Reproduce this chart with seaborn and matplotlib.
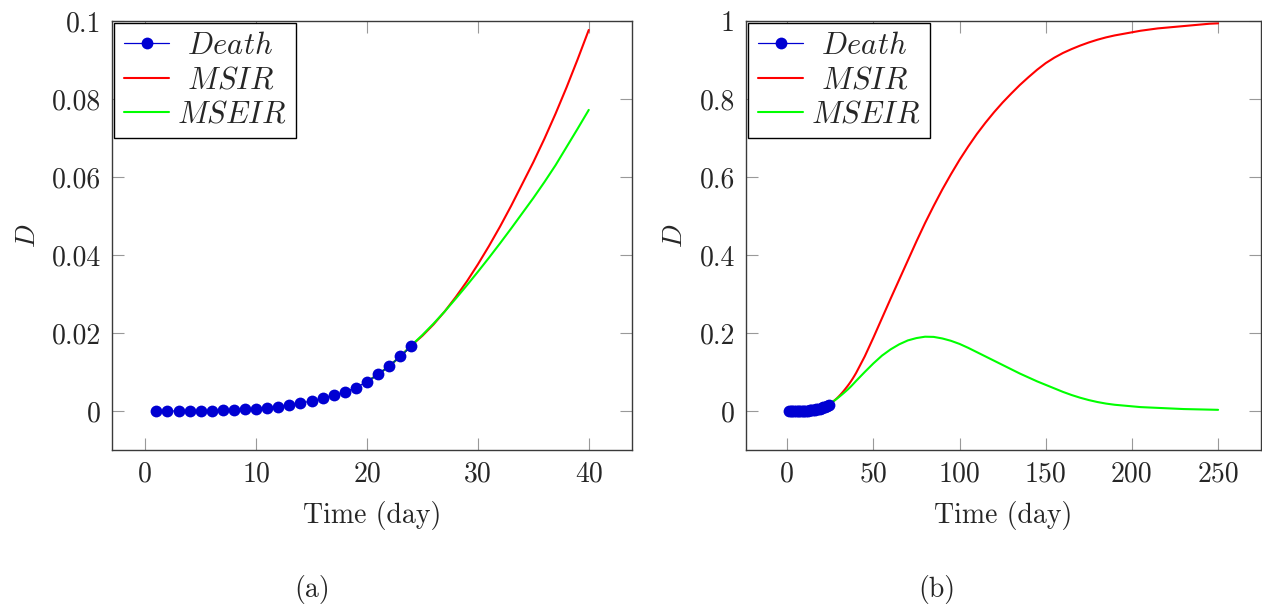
import matplotlib

matplotlib.use("Agg")

import matplotlib.pyplot as plt
import matplotlib.ticker as mticker
import pandas as pd
import seaborn as sns

# observed deaths (fraction), days 1..24
DEATH_DAYS = list(range(1, 25))
DEATH = [0.0, 0.0, 0.0, 0.0, 0.0, 0.0001, 0.0002, 0.0003, 0.0004, 0.0006,
         0.0008, 0.0011, 0.0015, 0.0020, 0.0026, 0.0033, 0.0041, 0.0049,
         0.0060, 0.0075, 0.0094, 0.0115, 0.0140, 0.0166]

# model time grid
MODEL_DAYS = [20, 21, 22, 23, 24, 25, 26, 27, 28, 29, 30, 31, 32, 33, 34, 35,
              36, 37, 38, 39, 40, 45, 50, 55, 60, 65, 70, 75, 80, 85, 90, 95,
              100, 105, 110, 115, 120, 125, 130, 135, 140, 145, 150, 155, 160,
              165, 170, 175, 180, 185, 190, 195, 200, 205, 210, 215, 220, 225,
              230, 235, 240, 245, 250]

MSIR = [0.0075, 0.0094, 0.0115, 0.0140, 0.0168, 0.0193, 0.0222, 0.0255,
        0.0292, 0.0332, 0.0376, 0.0423, 0.0473, 0.0526, 0.0582, 0.0638,
        0.0698, 0.0762, 0.0830, 0.0902, 0.0977, 0.140, 0.188, 0.238, 0.288,
        0.337, 0.386, 0.435, 0.482, 0.526, 0.568, 0.607, 0.644, 0.678, 0.710,
        0.739, 0.766, 0.791, 0.814, 0.836, 0.856, 0.875, 0.892, 0.906, 0.918,
        0.928, 0.937, 0.945, 0.952, 0.958, 0.963, 0.967, 0.971, 0.975, 0.978,
        0.981, 0.983, 0.985, 0.987, 0.989, 0.991, 0.993, 0.994]

MSEIR = [0.0075, 0.0094, 0.0115, 0.0140, 0.0168, 0.0195, 0.0224, 0.0255,
         0.0288, 0.0322, 0.0357, 0.0393, 0.0430, 0.0468, 0.0507, 0.0546,
         0.0587, 0.0630, 0.0677, 0.0724, 0.0772, 0.100, 0.122, 0.142, 0.158,
         0.171, 0.181, 0.187, 0.1905, 0.190, 0.186, 0.180, 0.172, 0.162,
         0.151, 0.140, 0.129, 0.118, 0.107, 0.096, 0.086, 0.076, 0.067,
         0.058, 0.049, 0.041, 0.034, 0.028, 0.023, 0.019, 0.016, 0.014,
         0.012, 0.010, 0.009, 0.008, 0.007, 0.006, 0.005, 0.0045, 0.004,
         0.0035, 0.003]

LABELS = [r"$\:\,Death$", r"$\:\,MSIR$", r"$MSEIR$"]

BLUE = "#0000d2"
RED = "#ff0000"
GREEN = "#00ff00"
FS = 20


def style_axis(ax, xlim, ylim, xticks, yticks):
    ax.set_xlim(*xlim)
    ax.set_ylim(*ylim)
    ax.set_xticks(xticks)
    ax.set_yticks(yticks)
    ax.xaxis.set_major_formatter(mticker.FuncFormatter(lambda v, p: f"{v:g}"))
    ax.yaxis.set_major_formatter(mticker.FuncFormatter(lambda v, p: f"{v:g}"))
    ax.tick_params(direction="in", length=8.5, width=0.8, color="#999999",
                   top=True, right=True, labelsize=FS, pad=8)
    for sp in ax.spines.values():
        sp.set_visible(True)
        sp.set_color("#3a3a3a")
        sp.set_linewidth(1.0)
    ax.set_xlabel("Time (day)", fontsize=FS, labelpad=10)
    ax.set_ylabel(r"$D$", fontsize=FS, labelpad=8)
    leg = ax.legend(loc="upper left", fontsize=22, frameon=True, fancybox=False,
                    framealpha=1, edgecolor="black", borderaxespad=0.08,
                    handlelength=1.5, handletextpad=0.25, labelspacing=0.22,
                    borderpad=0.3)
    leg.get_frame().set_linewidth(1.0)


def draw(ax, death, model):
    sns.lineplot(data=death, x="day", y="value", ax=ax, color=BLUE,
                 marker="o", markersize=8.5, markeredgewidth=0, linewidth=0.9,
                 label=LABELS[0], zorder=4)
    sns.lineplot(data=model, x="day", y="MSIR", ax=ax, color=RED,
                 linewidth=1.5, label=LABELS[1], zorder=2)
    sns.lineplot(data=model, x="day", y="MSEIR", ax=ax, color=GREEN,
                 linewidth=1.5, label=LABELS[2], zorder=3)


def main() -> None:
    sns.set_theme(style="ticks")
    plt.rcParams["font.family"] = ["cmr10", "DejaVu Serif"]
    plt.rcParams["mathtext.fontset"] = "cm"
    plt.rcParams["axes.formatter.use_mathtext"] = True

    death = pd.DataFrame({"day": DEATH_DAYS, "value": DEATH})
    model = pd.DataFrame({"day": MODEL_DAYS, "MSIR": MSIR, "MSEIR": MSEIR})

    fig = plt.figure(figsize=(12.62, 6.05), dpi=100)
    ax_a = fig.add_axes([112 / 1262, 155 / 605, 520 / 1262, 429 / 605])
    ax_b = fig.add_axes([746 / 1262, 155 / 605, 515 / 1262, 429 / 605])

    draw(ax_a, death, model[model["day"] <= 40])
    style_axis(ax_a, (-3.0, 43.9), (-0.01, 0.1), [0, 10, 20, 30, 40],
               [0, 0.02, 0.04, 0.06, 0.08, 0.1])

    draw(ax_b, death, model)
    style_axis(ax_b, (-23.9, 274.9), (-0.1, 1.0), [0, 50, 100, 150, 200, 250],
               [0, 0.2, 0.4, 0.6, 0.8, 1])

    fig.text(312 / 1262, 16 / 605, "(a)", fontsize=FS, ha="center", va="center")
    fig.text(937 / 1262, 16 / 605, "(b)", fontsize=FS, ha="center", va="center")

    fig.savefig("out.png", dpi=100)
    plt.close(fig)


if __name__ == "__main__":
    main()
